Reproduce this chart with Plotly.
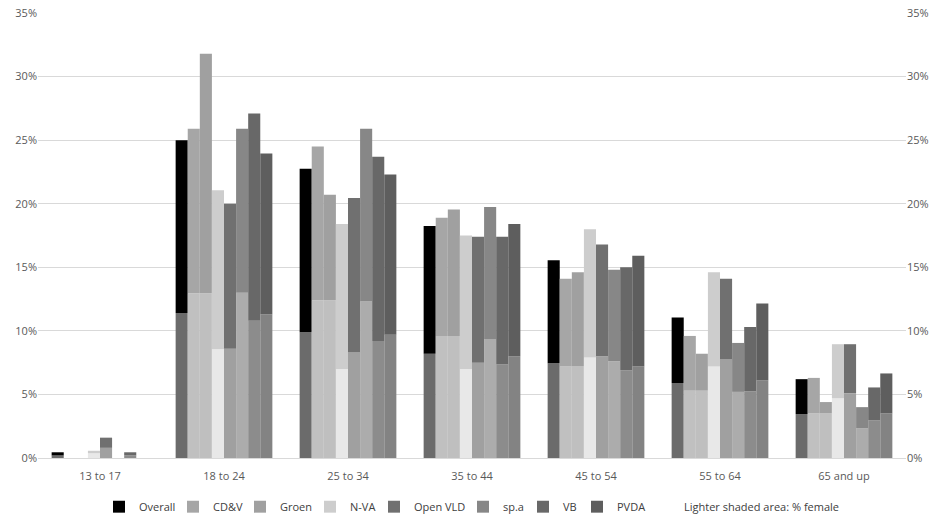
import plotly.graph_objects as go

categories = ["13 to 17", "18 to 24", "25 to 34", "35 to 44", "45 to 54", "55 to 64", "65 and up"]
parties = ["Overall", "CD&V", "Groen", "N-VA", "Open VLD", "sp.a", "VB", "PVDA"]

# total share per age group (%)
total = {
    "Overall":  [0.45, 25.0, 22.75, 18.25, 15.55, 11.05, 6.2],
    "CD&V":     [0.0, 25.9, 24.5, 18.9, 14.1, 9.6, 6.3],
    "Groen":    [0.0, 31.8, 20.7, 19.55, 14.6, 8.2, 4.4],
    "N-VA":     [0.57, 21.05, 18.4, 17.5, 18.0, 14.6, 8.95],
    "Open VLD": [1.6, 20.0, 20.45, 17.4, 16.8, 14.1, 8.95],
    "sp.a":     [0.0, 25.9, 25.9, 19.75, 14.8, 9.05, 4.0],
    "VB":       [0.45, 27.1, 23.7, 17.4, 15.0, 10.3, 5.55],
    "PVDA":     [0.0, 23.95, 22.3, 18.4, 15.9, 12.15, 6.65],
}
# female share per age group (%) - lighter shaded area
female = {
    "Overall":  [0.2, 11.4, 9.9, 8.2, 7.45, 5.9, 3.45],
    "CD&V":     [0.0, 12.95, 12.4, 9.6, 7.2, 5.3, 3.5],
    "Groen":    [0.0, 12.95, 12.4, 9.6, 7.2, 5.3, 3.5],
    "N-VA":     [0.37, 8.55, 7.0, 7.0, 7.9, 7.2, 4.7],
    "Open VLD": [0.8, 8.6, 8.3, 7.5, 8.0, 7.75, 5.1],
    "sp.a":     [0.0, 13.0, 12.3, 9.35, 7.6, 5.2, 2.35],
    "VB":       [0.2, 10.8, 9.2, 7.35, 6.9, 5.25, 2.95],
    "PVDA":     [0.0, 11.3, 9.7, 8.0, 7.2, 6.1, 3.5],
}

upper_colors = ["#000000", "#a6a6a6", "#a0a0a0", "#cdcdcd", "#707070", "#878787", "#686868", "#5e5e5e"]
lower_colors = ["#6b6b6b", "#c0c0c0", "#bfbfbf", "#e8e8e8", "#a0a0a0", "#acacac", "#8c8c8c", "#838383"]
# legend entry widths (px), slightly tighter than the label text
legend_widths = [29, 22, 25, 19, 44, 15, 9, 22]

y_ticks = [0, 5, 10, 15, 20, 25, 30, 35]
y_tick_labels = ["0%", "5%", "10%", "15%", "20%", "25%", "30%", "35%"]
note = "Lighter shaded area: % female"

fig = go.Figure()
for i, p in enumerate(parties):
    fem = female[p]
    rest = [t - f for t, f in zip(total[p], fem)]
    fig.add_trace(go.Bar(
        x=categories, y=fem, offsetgroup=str(i), name=p,
        marker=dict(color=lower_colors[i], line=dict(width=0)),
        showlegend=False, hoverinfo="skip",
    ))
    fig.add_trace(go.Bar(
        x=categories, y=rest, base=fem, offsetgroup=str(i), name=p,
        marker=dict(color=upper_colors[i], line=dict(width=0)),
        showlegend=True, legendwidth=legend_widths[i],
    ))

# legend-only note entry
fig.add_trace(go.Scatter(
    x=[None], y=[None], mode="markers", name=note,
    marker=dict(color="rgba(0,0,0,0)", size=1), showlegend=True, hoverinfo="skip",
))
# right axis carrier
fig.add_trace(go.Scatter(
    x=[categories[0]], y=[None], yaxis="y2", mode="markers",
    marker=dict(opacity=0), showlegend=False, hoverinfo="skip",
))

tick_font = dict(family="Open Sans, Liberation Sans, sans-serif", size=11, color="#595959")

fig.update_layout(
    width=944, height=517,
    margin=dict(l=38, r=38, t=13, b=59, autoexpand=False),
    paper_bgcolor="white", plot_bgcolor="white",
    barmode="group", bargap=0.22, bargroupgap=0,
    font=tick_font,
    xaxis=dict(
        type="category", showgrid=False, showline=True, linecolor="#d9d9d9",
        linewidth=1, ticks="outside", ticklen=8, tickcolor="rgba(0,0,0,0)",
        tickfont=tick_font, zeroline=False,
    ),
    yaxis=dict(
        range=[0, 35], tickmode="array", tickvals=y_ticks, ticktext=y_tick_labels,
        showgrid=True, gridcolor="#d9d9d9", gridwidth=1, zeroline=False,
        showline=False, tickfont=tick_font, ticks="",
    ),
    yaxis2=dict(
        range=[0, 35], tickmode="array", tickvals=y_ticks, ticktext=y_tick_labels,
        overlaying="y", side="right", showgrid=False, zeroline=False,
        showline=False, tickfont=tick_font, ticks="",
    ),
    legend=dict(
        orientation="h", x=0.5, xanchor="center",
        yref="container", y=0.02, yanchor="middle",
        font=dict(family="Open Sans, Liberation Sans, sans-serif", size=11, color="#404040"),
        itemwidth=30, traceorder="normal", bgcolor="rgba(0,0,0,0)",
    ),
)

fig.write_html("out.html")
